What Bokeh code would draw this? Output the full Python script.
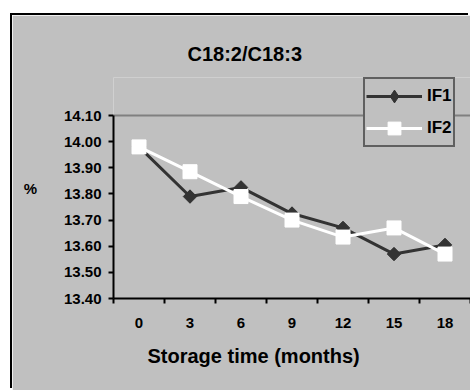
from bokeh.plotting import figure
from bokeh.models import (Range1d, FixedTicker, Title, Legend, LegendItem,
                          ColumnDataSource, CustomJSTickFormatter)
from bokeh.embed import file_html
from bokeh.resources import INLINE
import numpy as np

months = ["0", "3", "6", "9", "12", "15", "18"]
if1 = [13.98, 13.79, 13.825, 13.725, 13.67, 13.57, 13.605]
if2 = [13.98, 13.885, 13.79, 13.70, 13.635, 13.67, 13.57]
y_ticks = [13.40, 13.50, 13.60, 13.70, 13.80, 13.90, 14.00, 14.10]

FONT = "Liberation Sans"
GRAY = "#C0C0C0"

xpos = [i + 0.5 for i in range(len(months))]
src = ColumnDataSource(dict(x=xpos, m=months, if1=if1, if2=if2))

p = figure(width=458, height=375, output_backend="svg", toolbar_location=None,
           x_range=Range1d(0, len(months)), y_range=Range1d(13.40, 14.2454),
           min_border_left=101, min_border_right=0, min_border_top=62,
           min_border_bottom=92)
p.margin = (15, 0, 0, 12)
p.styles = {"box-shadow": "-2px -2px 0 0 black"}
p.background_fill_color = GRAY
p.border_fill_color = GRAY
p.outline_line_color = None

# axes
xax = p.xaxis[0]
xax.ticker = FixedTicker(ticks=xpos, minor_ticks=list(range(len(months) + 1)))
xax.major_label_overrides = {x: m for x, m in zip(xpos, months)}
xax.major_tick_line_color = None
xax.major_tick_out = 0
xax.major_tick_in = 0
xax.minor_tick_out = 5
xax.minor_tick_in = 0
xax.minor_tick_line_width = 2
xax.minor_tick_line_color = "black"
xax.major_label_standoff = 14
xax.axis_line_width = 2
xax.axis_line_color = "black"

yax = p.yaxis[0]
yax.ticker = FixedTicker(ticks=y_ticks)
yax.bounds = (13.40, 14.10)
yax.formatter = CustomJSTickFormatter(code="return tick.toFixed(2);")
yax.major_tick_out = 5
yax.major_tick_in = 0
yax.major_tick_line_width = 2
yax.major_tick_line_color = "black"
yax.minor_tick_line_color = None
yax.major_label_standoff = 7
yax.axis_line_width = 2
yax.axis_line_color = "black"
yax.axis_label = "%"
yax.axis_label_text_font = FONT
yax.axis_label_text_font_style = "bold"
yax.axis_label_text_font_size = "15px"
yax.axis_label_text_color = "black"
yax.axis_label_standoff = 24
if "axis_label_orientation" in yax.properties():
    yax.axis_label_orientation = "horizontal"

for ax in (xax, yax):
    ax.major_label_text_font = FONT
    ax.major_label_text_font_style = "bold"
    ax.major_label_text_font_size = "15px"
    ax.major_label_text_color = "black"

p.xgrid.visible = False
p.ygrid.ticker = FixedTicker(ticks=[14.10])
p.ygrid.grid_line_color = "#808080"
p.ygrid.grid_line_width = 2

# title
t = Title(text="C18:2/C18:3", align="left", offset=74, standoff=25,
          text_font=FONT, text_font_style="bold", text_font_size="20px",
          text_color="black")
p.add_layout(t, "above")

xt = Title(text="Storage time (months)", align="left", offset=34, standoff=24,
           text_font=FONT, text_font_style="bold", text_font_size="20px",
           text_color="black")
p.add_layout(xt, "below")

# series
l1 = p.line("x", "if1", source=src, line_color="#333333", line_width=3)
# diamond key, fully covered by the rotated square markers drawn on top
k1 = p.scatter("x", "if1", source=src, marker="diamond", size=12,
               fill_color="#333333", line_color="#333333")
s1 = p.scatter("x", "if1", source=src, marker="square", angle=np.pi / 4,
               size=9.5, fill_color="#333333", line_color="#333333")
l2 = p.line("x", "if2", source=src, line_color="white", line_width=3)
s2 = p.scatter("x", "if2", source=src, marker="square", size=14,
               fill_color="white", line_color="white")

legend = Legend(items=[LegendItem(label="IF1", renderers=[l1, k1]),
                       LegendItem(label="IF2", renderers=[l2, s2])],
                location=(250, 151), orientation="vertical",
                glyph_width=56, glyph_height=32, label_height=32,
                label_standoff=5, padding=1, spacing=0, margin=0,
                label_text_font=FONT, label_text_font_style="bold",
                label_text_font_size="17px", label_text_color="black",
                border_line_color="black", border_line_width=2,
                background_fill_color=GRAY, background_fill_alpha=1.0)
p.add_layout(legend, "center")

open("out.html", "w").write(file_html(p, INLINE))
